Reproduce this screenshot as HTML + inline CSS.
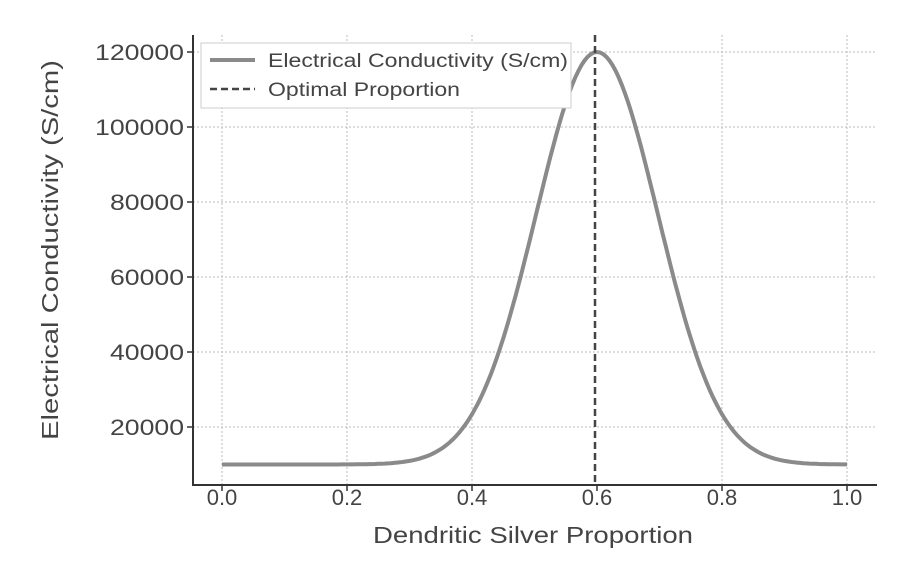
<!DOCTYPE html>
<html><head><meta charset="utf-8"><style>
html,body{margin:0;padding:0;background:#fff;}
svg text{font-family:"Liberation Sans","DejaVu Sans",sans-serif;fill:#444;}
</style></head><body>
<svg id="s" width="909" height="572" viewBox="0 0 909 572" xmlns="http://www.w3.org/2000/svg">
<g stroke="#bbb" stroke-width="1" stroke-dasharray="2,2" fill="none">
<line x1="222" y1="35" x2="222" y2="485"/>
<line x1="347" y1="35" x2="347" y2="485"/>
<line x1="472" y1="35" x2="472" y2="485"/>
<line x1="722" y1="35" x2="722" y2="485"/>
<line x1="847" y1="35" x2="847" y2="485"/>
<line x1="193" y1="52" x2="877" y2="52"/>
<line x1="193" y1="127" x2="877" y2="127"/>
<line x1="193" y1="202" x2="877" y2="202"/>
<line x1="193" y1="277" x2="877" y2="277"/>
<line x1="193" y1="352" x2="877" y2="352"/>
<line x1="193" y1="427" x2="877" y2="427"/>
</g>
<path id="curve" d="" stroke="#8a8a8a" stroke-width="4" fill="none"/>
<line x1="595" y1="35" x2="595" y2="485" stroke="#444" stroke-width="2.5" stroke-dasharray="7,4"/>
<g stroke="#333" stroke-width="2">
<line x1="193" y1="35" x2="193" y2="486"/>
<line x1="192" y1="485" x2="877" y2="485"/>
</g>
<g stroke="#333" stroke-width="1.5">
<line x1="222" y1="485" x2="222" y2="491"/><line x1="347" y1="485" x2="347" y2="491"/>
<line x1="472" y1="485" x2="472" y2="491"/><line x1="597" y1="485" x2="597" y2="491"/>
<line x1="722" y1="485" x2="722" y2="491"/><line x1="847" y1="485" x2="847" y2="491"/>
<line x1="187" y1="52" x2="193" y2="52"/><line x1="187" y1="127" x2="193" y2="127"/>
<line x1="187" y1="202" x2="193" y2="202"/><line x1="187" y1="277" x2="193" y2="277"/>
<line x1="187" y1="352" x2="193" y2="352"/><line x1="187" y1="427" x2="193" y2="427"/>
</g>
<g font-size="22">
<text x="95" y="60" textLength="89" lengthAdjust="spacingAndGlyphs">120000</text>
<text x="95" y="135" textLength="89" lengthAdjust="spacingAndGlyphs">100000</text>
<text x="110" y="210" textLength="74" lengthAdjust="spacingAndGlyphs">80000</text>
<text x="110" y="285" textLength="74" lengthAdjust="spacingAndGlyphs">60000</text>
<text x="110" y="360" textLength="74" lengthAdjust="spacingAndGlyphs">40000</text>
<text x="110" y="435" textLength="74" lengthAdjust="spacingAndGlyphs">20000</text>
</g>
<g font-size="22" text-anchor="middle">
<text x="222" y="505">0.0</text><text x="347" y="505">0.2</text>
<text x="472" y="505">0.4</text><text x="597" y="505">0.6</text>
<text x="722" y="505">0.8</text><text x="847" y="505">1.0</text>
</g>
<text x="373" y="543" font-size="23" textLength="320" lengthAdjust="spacingAndGlyphs">Dendritic Silver Proportion</text>
<text transform="translate(58,440) rotate(-90)" font-size="23" textLength="380" lengthAdjust="spacingAndGlyphs">Electrical Conductivity (S/cm)</text>
<rect x="201" y="43" width="370" height="65" fill="#fff" stroke="#ccc" stroke-width="1"/>
<line x1="210" y1="60" x2="255" y2="60" stroke="#8a8a8a" stroke-width="4"/>
<line x1="210" y1="89" x2="255" y2="89" stroke="#444" stroke-width="2.5" stroke-dasharray="7,4"/>
<text x="268" y="67" font-size="19" textLength="300" lengthAdjust="spacingAndGlyphs">Electrical Conductivity (S/cm)</text>
<text x="268" y="96" font-size="19" textLength="192" lengthAdjust="spacingAndGlyphs">Optimal Proportion</text>
</svg>
<script>
var d="";
for(var i=0;i<=200;i++){var x=i/200;var v=10000+110000*Math.exp(-Math.pow(x-0.6,2)/(2*0.0095));
var px=222+x*625, py=427-(v-20000)*0.00375; d+=(i?"L":"M")+px.toFixed(1)+","+py.toFixed(1);}
document.getElementById("curve").setAttribute("d",d);
</script>
</body></html>
